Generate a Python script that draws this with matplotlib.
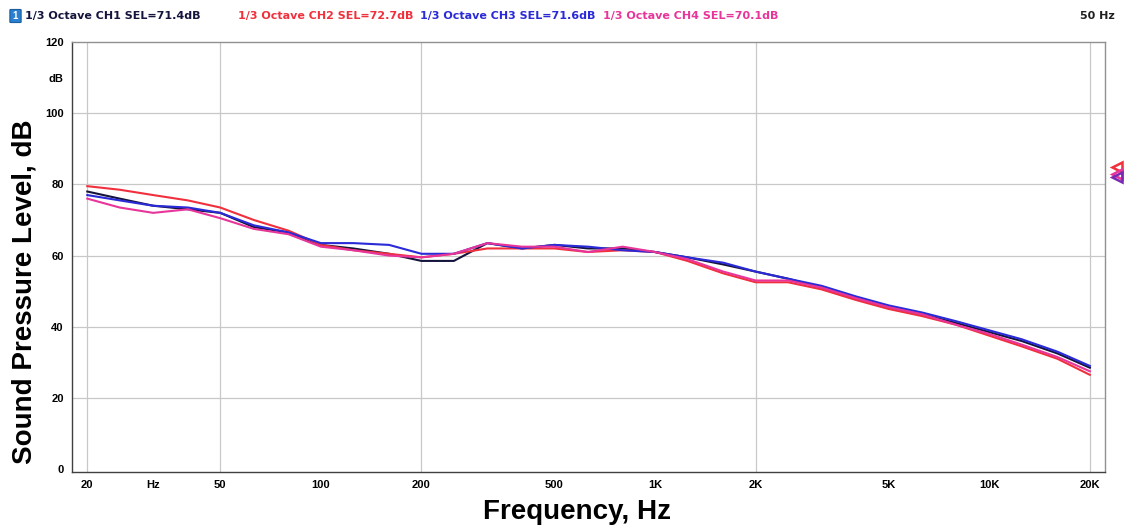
import matplotlib
matplotlib.use("Agg")
import matplotlib.pyplot as plt
import matplotlib.transforms as mtransforms
from matplotlib.patches import FancyBboxPatch

plt.rcParams['font.family'] = ['Liberation Sans', 'DejaVu Sans']

# 1/3 octave band centres
freqs = [20, 25, 31.5, 40, 50, 63, 80, 100, 125, 160, 200, 250, 315, 400, 500,
         630, 800, 1000, 1250, 1600, 2000, 2500, 3150, 4000, 5000, 6300, 8000,
         10000, 12500, 16000, 20000]

ch1 = [78, 76, 74, 73, 72, 68, 66.5, 63, 62, 60.5, 58.5, 58.5, 63.5, 62, 63, 62,
       62, 61, 59.5, 57.5, 55.5, 53.5, 51, 48, 45.5, 43.5, 41, 38.5, 36, 32.5, 28.5]
ch2 = [79.5, 78.5, 77, 75.5, 73.5, 70, 67, 63, 61.5, 60.5, 59.5, 60.5, 62, 62, 62,
       61, 61.5, 61, 58.5, 55, 52.5, 52.5, 50.5, 47.5, 45, 43, 40.5, 37.5, 34.5, 31, 26.5]
ch3 = [77, 75.5, 74, 73.5, 72, 68.5, 66.5, 63.5, 63.5, 63, 60.5, 60.5, 63.5, 62, 63,
       62.5, 61.5, 61, 59.5, 58, 55.5, 53.5, 51.5, 48.5, 46, 44, 41.5, 39, 36.5, 33, 29]
ch4 = [76, 73.5, 72, 73, 70.5, 67.5, 66, 62.5, 61.5, 60, 59.5, 60.5, 63.5, 62.5, 62.5,
       61, 62.5, 61, 59, 55.5, 53, 53, 51, 48, 45.5, 43.5, 40.5, 38, 35, 31.5, 27.5]

labels = ['1/3 Octave CH1 SEL=71.4dB', '1/3 Octave CH2 SEL=72.7dB',
          '1/3 Octave CH3 SEL=71.6dB', '1/3 Octave CH4 SEL=70.1dB']
colors = ['#14143c', '#f0303c', '#2a2ad8', '#e8359a']

# off-scale markers at the right edge
edge_vals = [85, 83, 82]
edge_cols = ['#f0303c', '#e8359a', '#7a2ab0']

xticks = [20, 31.5, 50, 100, 200, 500, 1000, 2000, 5000, 10000, 20000]
xticklabels = ['20', 'Hz', '50', '100', '200', '500', '1K', '2K', '5K', '10K', '20K']
xgrid = [20, 50, 200, 2000, 20000]
yticks = [0, 20, 40, 60, 80, 100, 110, 120]
yticklabels = ['0', '20', '40', '60', '80', '100', 'dB', '120']

fig = plt.figure(figsize=(11.25, 5.32), dpi=100)
ax = fig.add_axes([72/1125, 1-472/532, (1105-72)/1125, (472-42)/532])

for ys, c in zip([ch1, ch2, ch3, ch4], colors):
    ax.plot(freqs, ys, color=c, lw=1.5)

ax.set_xscale('log')
ax.set_xlim(18.0, 22200)
ax.set_ylim(-0.8, 120)
ax.set_xticks(xticks)
ax.set_xticklabels(xticklabels)
ax.xaxis.set_minor_locator(matplotlib.ticker.NullLocator())
ax.set_yticks(yticks)
ax.set_yticklabels(yticklabels)
ax.tick_params(length=0, labelsize=8, pad=6)
for t in ax.get_xticklabels() + ax.get_yticklabels():
    t.set_fontweight('bold')

for f in xgrid:
    ax.axvline(f, color='#c8c8c8', lw=0.9, zorder=0)
for y in [20, 40, 60, 80, 100]:
    ax.axhline(y, color='#c8c8c8', lw=0.9, zorder=0)
for s in ax.spines.values():
    s.set_color('#909090')
    s.set_linewidth(1.0)
ax.spines['left'].set_color('#404040')
ax.spines['bottom'].set_color('#404040')

trans = mtransforms.blended_transform_factory(ax.transAxes, ax.transData)
for v, c in zip(edge_vals, edge_cols):
    ax.plot([1.012], [v], marker='<', ms=7, mfc='none', mec=c, mew=1.8,
            transform=trans, clip_on=False)

ax.set_xlabel('Frequency, Hz', fontsize=20, fontweight='bold')
ax.set_ylabel('Sound Pressure Level, dB', fontsize=20, fontweight='bold')
ax.xaxis.set_label_coords(0.489, -0.093)
ax.yaxis.set_label_coords(-0.0455, 0.419)
ax.xaxis.label.set_va('center')
ax.yaxis.label.set_va('center')

# header with channel names
icon = FancyBboxPatch((11/1125, 1-22/532), 9/1125, 12/532, boxstyle='round,pad=0.001',
                      transform=fig.transFigure, fc='#2a7fd0', ec='#1a5fa0', lw=0.8)
fig.patches.append(icon)
fig.text(15.5/1125, 1-16/532, '1', color='white', fontsize=7, fontweight='bold',
         ha='center', va='center')
xpos = [25, 238, 420, 603]
for x, lab, c in zip(xpos, labels, colors):
    fig.text(x/1125, 1-16/532, lab, color=c, fontsize=8, fontweight='bold',
             va='center', family='DejaVu Sans')
fig.text(1115/1125, 1-16/532, '50 Hz', color='#202020', fontsize=8,
         fontweight='bold', va='center', ha='right', family='DejaVu Sans')

fig.savefig('out.png', dpi=100)
